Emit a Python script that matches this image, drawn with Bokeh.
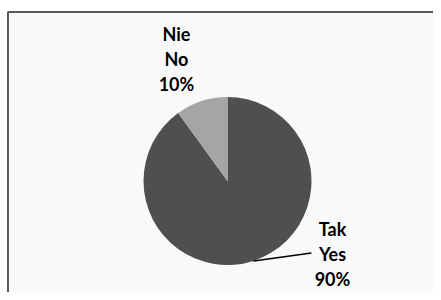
import numpy as np
from bokeh.plotting import figure
from bokeh.models import ColumnDataSource
from bokeh.core.properties import value
from bokeh.embed import file_html
from bokeh.resources import INLINE

# ---- data ----
labels_pl = ["Tak", "Nie"]
labels_en = ["Yes", "No"]
values = [90, 10]
colors = ["#4f4f4f", "#a5a5a5"]

# ---- layout constants ----
W, H = 433, 292
cx, cy, r = 227, 111.5, 84
label_off = [(105, -73), (-51, 122.5)]   # centre of middle text line, relative to pie centre
line_gap = 25
font = "Lato"
fsize = "18px"

p = figure(width=W, height=H, x_range=(0, W), y_range=(0, H),
           output_backend="svg", toolbar_location=None, min_border=0)
p.axis.visible = False
p.grid.visible = False
p.outline_line_color = None
p.background_fill_color = "white"
p.border_fill_color = "white"

# chart area frame (continues beyond the picture on the right/bottom)
p.quad(left=[7.5], right=[W + 20], top=[H - 11.5], bottom=[-20],
       fill_color="#f9f9f9", line_color="#5a5a5a", line_width=2)

vals = np.array(values, dtype=float)
frac = vals / vals.sum()
cum = np.concatenate([[0], np.cumsum(frac)])
start = np.pi / 2 - cum[:-1] * 2 * np.pi
end = np.pi / 2 - cum[1:] * 2 * np.pi
mid = (start + end) / 2

src = ColumnDataSource(dict(start=start, end=end, color=colors))
p.wedge(x=cx, y=cy, radius=r, start_angle="start", end_angle="end",
        direction="clock", fill_color="color", line_color=None, source=src)

pct = [f"{round(f * 100)}%" for f in frac]
for i in range(len(values)):
    lx = cx + label_off[i][0]
    ly = cy + label_off[i][1]
    p.text(x=[lx, lx, lx], y=[ly + line_gap, ly, ly - line_gap],
           text=[labels_pl[i], labels_en[i], pct[i]],
           text_font=value(font), text_font_style="bold", text_font_size=fsize,
           text_align="center", text_baseline="middle", text_color="black")

# leader line for the big slice label
i = 0
ex, ey = cx + r * np.cos(mid[i]), cy + r * np.sin(mid[i])
lx = cx + label_off[i][0] - 21
ly = cy + label_off[i][1] + 1
p.line(x=[ex, lx], y=[ey, ly], line_color="black", line_width=1.5)

open("out.html", "w").write(file_html(p, INLINE))
